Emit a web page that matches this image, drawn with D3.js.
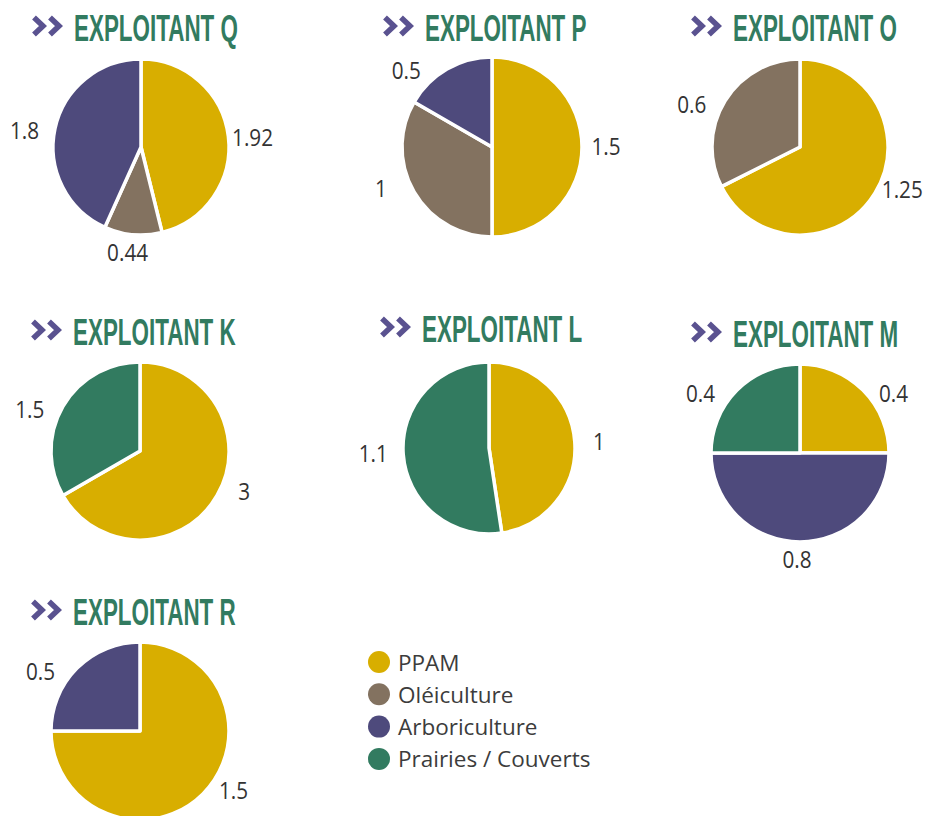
<!DOCTYPE html>
<html>
<head>
<meta charset="utf-8">
<script src="https://cdn.jsdelivr.net/npm/d3@7"></script>
<style>
  html, body { margin: 0; padding: 0; background: #ffffff; }
  svg { display: block; }
</style>
</head>
<body>
<svg id="chart" width="932" height="816"></svg>
<script>
// ---- Data ----
const categories = ["PPAM", "Oléiculture", "Arboriculture", "Prairies / Couverts"];
const exploitants = ["EXPLOITANT Q", "EXPLOITANT P", "EXPLOITANT O", "EXPLOITANT K", "EXPLOITANT L", "EXPLOITANT M", "EXPLOITANT R"];
// values per exploitant, in category order (null = absent)
const valuesQ = [1.92, 0.44, 1.8, null];
const valuesP = [1.5, 1, 0.5, null];
const valuesO = [1.25, 0.6, null, null];
const valuesK = [3, null, null, 1.5];
const valuesL = [1, null, null, 1.1];
const valuesM = [0.4, null, 0.8, 0.4];
const valuesR = [1.5, null, 0.5, null];
const seriesValues = [valuesQ, valuesP, valuesO, valuesK, valuesL, valuesM, valuesR];

// ---- Layout (positions / sizes / styles) ----
const layout = [
  { cx: 141, cy: 147, r: 88 },
  { cx: 492, cy: 147, r: 90 },
  { cx: 800, cy: 147, r: 88 },
  { cx: 140, cy: 451, r: 89 },
  { cx: 489, cy: 448, r: 86 },
  { cx: 800, cy: 453, r: 89 },
  { cx: 140, cy: 731, r: 89 }
];
const colors = ["#d8ae00", "#837260", "#4e4a7c", "#327b60"];
const titleColor = "#327b60";
const chevronColor = "#5a5290";
const labelColor = "#333333";

const svg = d3.select("#chart");
const color = d3.scaleOrdinal().domain(categories).range(colors);
const pie = d3.pie().sort(null).value(d => d.value);

// label position: mid-angle pulled toward the horizontal, on an ellipse
function labelPos(d, r) {
  let a = (d.startAngle + d.endAngle) / 2;          // radians, 0 = top, clockwise
  const h = a < Math.PI ? Math.PI / 2 : 3 * Math.PI / 2;
  const dist = a - h;
  if (Math.abs(dist) < Math.PI * 70 / 180) a = h + dist * 0.75;
  const rx = r + 27, ry = r + 18;
  return [Math.sin(a) * rx - 3, -Math.cos(a) * ry];
}

seriesValues.forEach((vals, i) => {
  const L = layout[i];
  const data = categories
    .map((c, k) => ({ cat: c, value: vals[k] }))
    .filter(d => d.value !== null);
  const g = svg.append("g").attr("transform", `translate(${L.cx},${L.cy})`);
  const arc = d3.arc().innerRadius(0).outerRadius(L.r);
  const arcs = pie(data);

  g.selectAll("path.slice").data(arcs).join("path")
    .attr("class", "slice")
    .attr("d", arc)
    .attr("fill", d => color(d.data.cat))
    .attr("stroke", "#ffffff")
    .attr("stroke-width", 3.5)
    .attr("stroke-linejoin", "round");

  g.selectAll("text.lbl").data(arcs).join("text")
    .attr("class", "lbl")
    .attr("transform", d => `translate(${labelPos(d, L.r)}) scale(0.9,1)`)
    .attr("text-anchor", "middle")
    .attr("dy", "0.36em")
    .attr("font-family", "'Open Sans', sans-serif")
    .attr("font-size", 23)
    .attr("fill", labelColor)
    .text(d => d.data.value);

  // title with chevrons
  const tx = L.cx - 110;
  const ty = L.cy - 121;
  const chev = svg.append("g").attr("transform", `translate(${tx},${ty})`);
  [3, 19].forEach(ox => {
    chev.append("path")
      .attr("d", `M${ox},-8.5 L${ox + 9},0 L${ox},8.5`)
      .attr("fill", "none")
      .attr("stroke", chevronColor)
      .attr("stroke-width", 5.5)
      .attr("stroke-linecap", "butt")
      .attr("stroke-linejoin", "miter");
  });
  svg.append("text")
    .attr("class", "title")
    .attr("data-x", tx + 43)
    .attr("data-y", L.cy - 106)
    .attr("font-family", "'Liberation Sans Narrow', 'Arial Narrow', sans-serif")
    .attr("font-weight", "bold")
    .attr("font-size", 37)
    .attr("fill", titleColor)
    .text(exploitants[i]);
});

// uniform horizontal scaling of titles so "EXPLOITANT Q" spans ~164px
const titles = svg.selectAll("text.title");
const refW = titles.nodes()[0].getComputedTextLength();
const sx = 164 / refW;
titles.each(function () {
  const el = d3.select(this);
  el.attr("transform", `translate(${el.attr("data-x")},${el.attr("data-y")}) scale(${sx},1)`);
});

// ---- Legend ----
const legend = svg.append("g").attr("transform", "translate(379,662)");
const rowH = 32.3;
categories.forEach((c, k) => {
  legend.append("circle")
    .attr("cx", 0).attr("cy", k * rowH).attr("r", 11)
    .attr("fill", color(c));
  legend.append("text")
    .attr("x", 19).attr("y", k * rowH + 8.5)
    .attr("font-family", "'Open Sans', sans-serif")
    .attr("font-size", 22.5)
    .attr("fill", "#3c3c3c")
    .text(c);
});
</script>
</body>
</html>
